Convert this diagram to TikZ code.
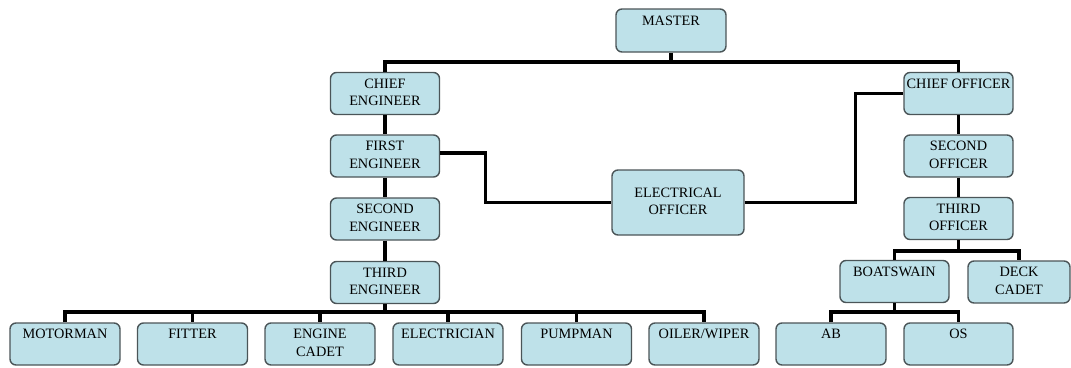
\documentclass[tikz,border=0pt]{standalone}
\usepackage{fontspec}
\setmainfont{Liberation Serif}
\definecolor{boxfill}{RGB}{190,225,233}
\definecolor{boxline}{RGB}{75,85,88}
\newcommand\twol[2]{\strut#1\\\strut#2}
\begin{document}
\begin{tikzpicture}[x=1pt,y=-1pt,
  box/.style={draw=boxline, fill=boxfill, line width=1.4pt, rounded corners=6pt,
    minimum width=109pt, minimum height=42pt, inner sep=0pt, align=center,
    font=\fontsize{14.3}{17.6}\selectfont},
  link/.style={line width=3.3pt, draw=black}]
\useasboundingbox (0,0) rectangle (1071,367);
% top
\node[box, minimum width=110pt, minimum height=43pt] (master) at (671,30.5) {\twol{MASTER}{}};
% engine side
\node[box] (ce) at (385,93.5) {\twol{CHIEF}{ENGINEER}};
\node[box] (fe) at (385,156) {\twol{FIRST}{ENGINEER}};
\node[box] (se) at (385,219) {\twol{SECOND}{ENGINEER}};
\node[box] (te) at (385,282.5) {\twol{THIRD}{ENGINEER}};
\node[box, minimum width=110pt] (mot) at (65,344) {\twol{MOTORMAN}{}};
\node[box, minimum width=110pt] (fit) at (192.5,344) {\twol{FITTER}{}};
\node[box, minimum width=110pt] (ecad) at (320,344) {\twol{ENGINE}{CADET}};
\node[box, minimum width=110pt] (elec) at (448,344) {\twol{ELECTRICIAN}{}};
\node[box, minimum width=110pt] (pump) at (576.5,344) {\twol{PUMPMAN}{}};
\node[box, minimum width=110pt] (oil) at (704,344) {\twol{OILER/WIPER}{}};
% middle
\node[box, minimum width=132pt, minimum height=65pt] (eo) at (678,202.5) {\twol{ELECTRICAL}{OFFICER}};
% deck side
\node[box] (co) at (958.5,93.5) {\twol{CHIEF OFFICER}{}};
\node[box] (so) at (958.5,156) {\twol{SECOND}{OFFICER}};
\node[box] (to) at (958.5,218.5) {\twol{THIRD}{OFFICER}};
\node[box] (bs) at (894.5,281.5) {\twol{BOATSWAIN}{}};
\node[box, minimum width=102pt] (dc) at (1019,282) {\twol{DECK}{CADET}};
\node[box, minimum width=110pt] (ab) at (831,344) {\twol{AB}{}};
\node[box] (os) at (958.5,344) {\twol{OS}{}};
% bars
\coordinate (mbar) at (0,62);
\coordinate (ebar) at (0,312);
\coordinate (tobar) at (0,251);
\coordinate (bsbar) at (0,312);
% connectors
\draw[link] (master.south) -- (master.south |- mbar);
\draw[link] (ce.north) -- (ce.north |- mbar) -- (co.north |- mbar) -- (co.north);
\draw[link] (ce) -- (fe);
\draw[link] (fe) -- (se);
\draw[link] (se) -- (te);
\draw[link] (te.south) -- (te.south |- ebar);
\draw[link] (mot.north) -- (mot.north |- ebar) -- (oil.north |- ebar) -- (oil.north);
\foreach \n in {fit,ecad,elec,pump} \draw[link] (\n.north |- ebar) -- (\n.north);
\draw[link] ([yshift=3pt]fe.east) -- ++(45,0) |- (eo.west);
\draw[link] (eo.east) -- ++(111,0) |- (co.west);
\draw[link] (co) -- (so);
\draw[link] (so) -- (to);
\draw[link] (to.south) -- (to.south |- tobar);
\draw[link] (bs.north) -- (bs.north |- tobar) -- (dc.north |- tobar) -- (dc.north);
\draw[link] (bs.south) -- (bs.south |- bsbar);
\draw[link] (ab.north) -- (ab.north |- bsbar) -- (os.north |- bsbar) -- (os.north);
\end{tikzpicture}
\end{document}
